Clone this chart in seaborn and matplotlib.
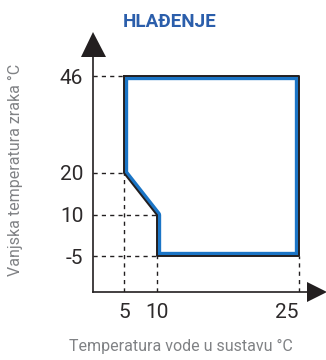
import numpy as np
import pandas as pd
import matplotlib
matplotlib.use("Agg")
import matplotlib.pyplot as plt
import seaborn as sns
from matplotlib.patches import Polygon

# Operating envelope (water temp vs. outdoor air temp)
x_vals = [5, 5, 10, 10, 25, 25, 5]
y_vals = [46, 20, 10, -5, -5, 46, 46]

x_ticks = [5, 10, 25]
y_ticks = [46, 20, 10, -5]

# schematic (non-linear) axis spacing: value -> relative distance
x_breaks = [0, 5, 10, 25, 28]
x_space = [0, 31, 64, 206, 224]
y_breaks = [-15, -5, 10, 20, 46, 56]
y_space = [0, 36, 77, 119, 216, 248]

title = "HLAĐENJE"
xlabel = "Temperatura vode u sustavu °C"
ylabel = "Vanjska temperatura zraka °C"

sns.set_style("white")
plt.rcParams['font.family'] = ['Roboto', 'DejaVu Sans']

fig = plt.figure(figsize=(3.26, 3.6), dpi=100)
ax = fig.add_axes([93 / 326, 68 / 360, 224 / 326, 248 / 360])

ax.set_xscale('function', functions=(lambda v: np.interp(v, x_breaks, x_space),
                                     lambda p: np.interp(p, x_space, x_breaks)))
ax.set_yscale('function', functions=(lambda v: np.interp(v, y_breaks, y_space),
                                     lambda p: np.interp(p, y_space, y_breaks)))
ax.set_xlim(x_breaks[0], x_breaks[-1])
ax.set_ylim(y_breaks[0], y_breaks[-1])

dark = '#231f20'
dash = (0, (3, 3))

# dashed guide lines
for x, ytop in [(5, 20), (10, 10), (25, -5)]:
    ax.plot([x, x], [y_breaks[0], ytop], color=dark, lw=1, ls=dash)
for y, xr in [(46, 5), (20, 5), (10, 10), (-5, 10)]:
    ax.plot([x_breaks[0], xr], [y, y], color=dark, lw=1, ls=dash)

df = pd.DataFrame({'x': x_vals, 'y': y_vals})
sns.lineplot(data=df, x='x', y='y', sort=False, estimator=None,
             color='#1b75c6', lw=6, ax=ax)
clip = Polygon(np.column_stack([x_vals, y_vals]), closed=True,
               transform=ax.transData)
ax.lines[-1].set_clip_path(clip)
sns.lineplot(data=df, x='x', y='y', sort=False, estimator=None,
             color=dark, lw=1.4, ax=ax)

for s in ['top', 'right']:
    ax.spines[s].set_visible(False)
for s in ['left', 'bottom']:
    ax.spines[s].set_color(dark)
    ax.spines[s].set_linewidth(1.2)

# arrow heads
ax.plot(0, 1, marker='^', ms=18, color=dark, mew=0,
        transform=ax.transAxes, clip_on=False)
ax.plot(1, 0, marker='>', ms=14, color=dark, mew=0,
        transform=ax.transAxes, clip_on=False)

ax.set_xticks(x_ticks)
ax.set_xticklabels([str(v) for v in x_ticks])
ax.set_yticks(y_ticks)
ax.set_yticklabels([str(v) for v in y_ticks])
ax.minorticks_off()
ax.tick_params(axis='both', length=0, labelsize=15, labelcolor='#2d2a2b')
ax.tick_params(axis='x', pad=8)
ax.tick_params(axis='y', pad=7)
ax.get_xticklabels()[-1].set_ha('right')

ax.set_xlabel(xlabel, fontsize=11.5, color='#808285')
ax.set_ylabel(ylabel, fontsize=11.5, color='#808285')
ax.xaxis.set_label_coords((181 - 93) / 224, (292 - 346) / 248)
ax.yaxis.set_label_coords((15 - 93) / 224, (292 - 170) / 248)
ax.xaxis.label.set_va('center')
ax.yaxis.label.set_va('center')

fig.text(170 / 326, 1 - 22 / 360, title, ha='center', va='center',
         fontsize=13.5, fontweight='bold', color='#2b5eab')

fig.savefig('out.png', dpi=100)
